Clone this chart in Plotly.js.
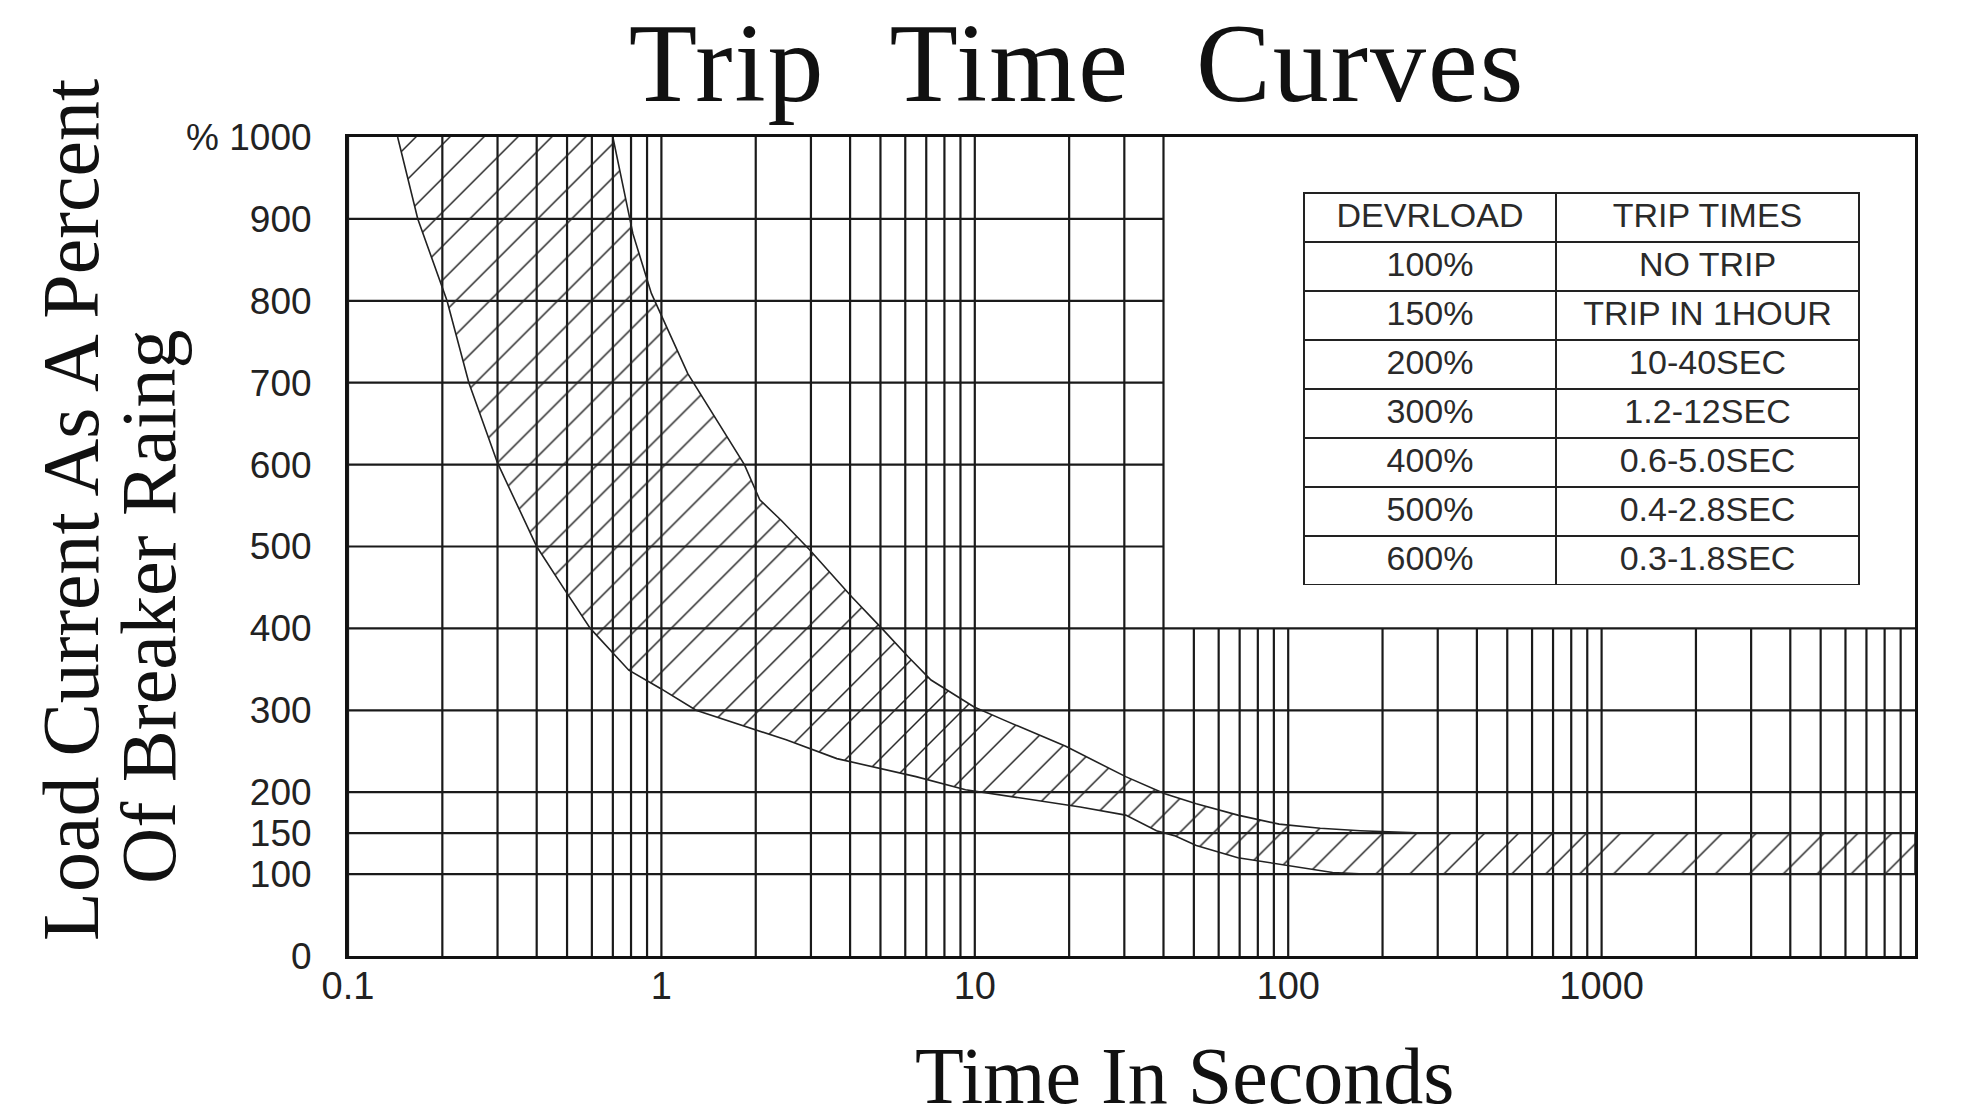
<!DOCTYPE html>
<html>
<head>
<meta charset="utf-8">
<script src="https://cdn.plot.ly/plotly-3.0.1.min.js"></script>
<style>
  html, body { margin: 0; padding: 0; background: #ffffff; }
  #chart { width: 1966px; height: 1120px; }
  #chart .gtitle { word-spacing: 36px; letter-spacing: 2px; }
</style>
</head>
<body>
<div id="chart"></div>
<script>
// ---------------- data ----------------
const xTickVals = [0.1, 1, 10, 100, 1000];
const xTickText = ['0.1', '1', '10', '100', '1000'];
const yTickVals = [0, 100, 150, 200, 300, 400, 500, 600, 700, 800, 900, 1000];
const yTickText = ['0', '100', '150', '200', '300', '400', '500', '600', '700', '800', '900', '% 1000'];

// grid of the chart paper
const gridDecades = [0.1, 1, 10, 100, 1000];
const gridMultipliers = [1, 2, 3, 4, 5, 6, 7, 8, 9];
const hGridLoads = [100, 150, 200, 300, 400, 500, 600, 700, 800, 900];
const gridSplitTime = 40;    // upper grid stops at 40 s
const gridSplitLoad = 400;   // right grid stops at 400 %

// lower-time boundary of the trip band (seconds, % load)
const minTripTime = [0.144, 0.167, 0.207, 0.243, 0.3, 0.4, 0.484, 0.593, 0.787, 0.99, 1.29, 1.99, 2.5, 3.63, 4.93, 6.49, 9.34, 21.7, 30.3, 38.0, 43.3, 50.9, 69.1, 93.5, 138.6, 175];
const minTripLoad = [1000, 900, 800, 700, 602, 500, 451, 400, 349, 327, 300, 276, 264, 241, 229, 219, 203, 182, 172, 153, 147, 135, 120, 112, 102, 100];

// upper-time boundary of the trip band (seconds, % load)
const maxTripTime = [0.7, 0.811, 0.929, 1.214, 1.84, 2.06, 2.41, 2.97, 4.04, 5.05, 6.14, 7.25, 9.95, 12.4, 19.5, 30.3, 40.4, 50.9, 69.1, 93.5, 126.5, 170, 270];
const maxTripLoad = [1000, 882, 809, 711, 600, 557, 532, 496, 439, 400, 365, 337, 304, 288, 256, 219, 198, 186, 172, 161, 156, 153, 150];

// long-time band between 100 % and 150 %
const bandEndTime = 10000;
const bandLowLoad = 100;
const bandHighLoad = 150;

// table
const tableHeader = ['DEVRLOAD', 'TRIP TIMES'];
const tableOverload = ['100%', '150%', '200%', '300%', '400%', '500%', '600%'];
const tableTripTimes = ['NO TRIP', 'TRIP IN 1HOUR', '10-40SEC', '1.2-12SEC', '0.6-5.0SEC', '0.4-2.8SEC', '0.3-1.8SEC'];

// ---------------- build traces ----------------
const ink = '#1a1a1a';
const xMin = 0.1, xMax = 10000, yMax = 1000;

const vx = [], vy = [];
gridDecades.forEach(d => gridMultipliers.forEach(m => {
  const v = d * m;
  vx.push(v, v, null);
  vy.push(0, v <= gridSplitTime * 1.0001 ? yMax : gridSplitLoad, null);
}));
const hx = [], hy = [];
hGridLoads.forEach(L => {
  hx.push(xMin, L > gridSplitLoad ? gridSplitTime : xMax, null);
  hy.push(L, L, null);
});

const gridV = { type: 'scatter', mode: 'lines', x: vx, y: vy, line: { color: ink, width: 2.2 }, hoverinfo: 'skip', showlegend: false };
const gridH = { type: 'scatter', mode: 'lines', x: hx, y: hy, line: { color: ink, width: 2.2 }, hoverinfo: 'skip', showlegend: false };

const bandX = minTripTime.concat([bandEndTime, bandEndTime]).concat(maxTripTime.slice().reverse());
const bandY = minTripLoad.concat([bandLowLoad, bandHighLoad]).concat(maxTripLoad.slice().reverse());

const band = {
  type: 'scatter', mode: 'lines', x: bandX, y: bandY,
  fill: 'toself',
  fillcolor: 'rgba(255,255,255,0)',
  fillpattern: { shape: '/', size: 24, solidity: 0.06, fgcolor: '#222222', bgcolor: 'rgba(255,255,255,0)' },
  line: { color: '#222222', width: 1.6 },
  hoverinfo: 'skip', showlegend: false
};

const tableFont = { family: 'Liberation Sans, Arial, sans-serif', size: 34, color: '#2a2a2a' };
const table = {
  type: 'table',
  domain: { x: [0.6101, 0.9643], y: [0.452, 0.9316] },
  columnwidth: [252, 303],
  header: {
    values: tableHeader.map(h => [h]),
    height: 49, align: 'center',
    line: { color: '#222', width: 2.5 },
    fill: { color: '#ffffff' },
    font: tableFont
  },
  cells: {
    values: [tableOverload, tableTripTimes],
    height: 49, align: 'center',
    line: { color: '#222', width: 2.5 },
    fill: { color: '#ffffff' },
    font: tableFont
  }
};

const serif = 'Liberation Serif, Times New Roman, serif';
const layout = {
  width: 1966, height: 1120,
  margin: { l: 348, r: 51, t: 137, b: 164, pad: 0 },
  paper_bgcolor: '#ffffff', plot_bgcolor: '#ffffff',
  showlegend: false,
  title: {
    text: 'Trip Time Curves',
    font: { family: serif, size: 112, color: '#111' },
    x: 0.5478, xanchor: 'center', xref: 'container',
    y: 1 - 62 / 1120, yanchor: 'middle', yref: 'container'
  },
  xaxis: {
    type: 'log', range: [Math.log10(xMin), Math.log10(xMax)],
    showgrid: false, zeroline: false,
    showline: true, mirror: true, linecolor: '#111', linewidth: 3,
    ticks: '', ticklen: 0, tickvals: xTickVals, ticktext: xTickText,
    tickfont: { family: 'Liberation Sans, Arial, sans-serif', size: 38, color: '#222' },
    ticklabelstandoff: -6,
    fixedrange: true
  },
  yaxis: {
    range: [0, yMax],
    showgrid: false, zeroline: false,
    showline: true, mirror: true, linecolor: '#111', linewidth: 3,
    ticks: '', tickvals: yTickVals, ticktext: yTickText,
    tickfont: { family: 'Liberation Sans, Arial, sans-serif', size: 37, color: '#222' },
    ticklabelstandoff: 26,
    fixedrange: true
  },
  annotations: [
    { text: 'Load Current As A Percent', xref: 'paper', yref: 'paper', x: -0.1768, y: 0.5446,
      xanchor: 'center', yanchor: 'middle', textangle: -90, showarrow: false,
      font: { family: serif, size: 80, color: '#111' } },
    { text: 'Of Breaker Raing', xref: 'paper', yref: 'paper', x: -0.1276, y: 0.4261,
      xanchor: 'center', yanchor: 'middle', textangle: -90, showarrow: false,
      font: { family: serif, size: 78, color: '#111' } },
    { text: 'Time In Seconds', xref: 'paper', yref: 'paper', x: 0.5341, y: -0.1471,
      xanchor: 'center', yanchor: 'middle', showarrow: false,
      font: { family: serif, size: 80, color: '#111' } }
  ]
};

Plotly.newPlot('chart', [gridV, gridH, band, table], layout, { staticPlot: true, displayModeBar: false });
</script>
</body>
</html>
